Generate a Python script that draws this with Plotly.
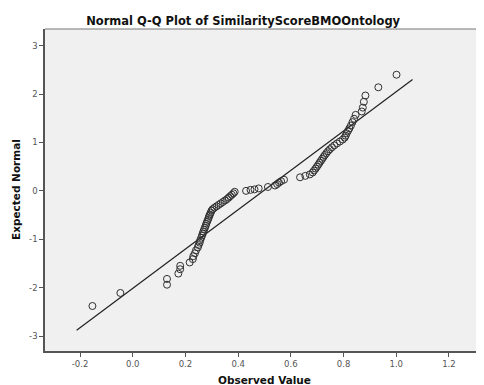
import plotly.graph_objects as go

observed = [
    -0.153, -0.047, 0.130, 0.130, 0.173, 0.180, 0.180, 0.216, 0.228, 0.230,
    0.236, 0.240, 0.247, 0.250, 0.254, 0.256, 0.260, 0.263, 0.266, 0.268,
    0.271, 0.274, 0.277, 0.279, 0.282, 0.285, 0.288, 0.290, 0.293, 0.296,
    0.299, 0.303, 0.310, 0.318, 0.326, 0.334, 0.342, 0.350, 0.358, 0.364,
    0.370, 0.376, 0.382, 0.387,
    0.430, 0.447, 0.462, 0.478, 0.513, 0.540, 0.548, 0.555, 0.563, 0.574,
    0.635, 0.655, 0.672, 0.683, 0.688, 0.694, 0.699, 0.704, 0.709, 0.714,
    0.719, 0.724, 0.729, 0.735, 0.741, 0.748, 0.756, 0.765, 0.775, 0.786,
    0.797, 0.804, 0.808, 0.812, 0.817, 0.822, 0.828, 0.834, 0.840, 0.846,
    0.869, 0.873, 0.877, 0.883, 0.932, 1.001,
]
expected = [
    -2.38, -2.11, -1.94, -1.82, -1.71, -1.62, -1.55, -1.48, -1.41, -1.35,
    -1.29, -1.23, -1.17, -1.12, -1.07, -1.02, -0.97, -0.92, -0.88, -0.84,
    -0.80, -0.76, -0.72, -0.68, -0.64, -0.60, -0.56, -0.52, -0.49, -0.45,
    -0.41, -0.38, -0.35, -0.32, -0.29, -0.26, -0.23, -0.20, -0.17, -0.14,
    -0.11, -0.08, -0.05, -0.02,
    0.00, 0.02, 0.03, 0.05, 0.08, 0.11, 0.14, 0.17, 0.20, 0.23,
    0.28, 0.31, 0.34, 0.38, 0.42, 0.46, 0.50, 0.54, 0.58, 0.62,
    0.66, 0.70, 0.74, 0.78, 0.82, 0.86, 0.90, 0.94, 0.98, 1.02,
    1.06, 1.10, 1.14, 1.19, 1.24, 1.29, 1.35, 1.42, 1.49, 1.57,
    1.64, 1.72, 1.84, 1.97, 2.14, 2.40,
]

# Reference line end points
line_x = [-0.213, 1.062]
line_y = [-2.88, 2.30]

x_ticks = [-0.2, 0.0, 0.2, 0.4, 0.6, 0.8, 1.0, 1.2]
x_tick_text = ["-0.2", "0.0", "0.2", "0.4", "0.6", "0.8", "1.0", "1.2"]
y_ticks = [-3, -2, -1, 0, 1, 2, 3]
y_tick_text = ["-3", "-2", "-1", "0", "1", "2", "3"]

fig = go.Figure()
fig.add_trace(go.Scatter(
    x=line_x, y=line_y, mode="lines",
    line=dict(color="#222222", width=1.2), hoverinfo="skip", showlegend=False,
))
fig.add_trace(go.Scatter(
    x=observed, y=expected, mode="markers",
    marker=dict(symbol="circle-open", size=7, color="#303030", line=dict(width=1)),
    showlegend=False,
))

# The page adds an 8px body margin; the figure is sized to fit inside it.
W, H = 476, 377
axis_font = dict(family="DejaVu Sans", size=8.5, color="#555555")
title_font = dict(family="DejaVu Sans", size=10.5, color="#111111")
fig.update_layout(
    width=W, height=H,
    margin=dict(l=37, r=0, t=21, b=34, autoexpand=False),
    paper_bgcolor="white", plot_bgcolor="#F0F0F0",
    title=dict(text="<b>Normal Q-Q Plot of SimilarityScoreBMOOntology</b>",
               x=0.494, xanchor="center", y=1 - 13 / H, yref="container",
               yanchor="middle",
               font=dict(family="DejaVu Sans", size=11.5, color="#111111"),
               automargin=False),
    xaxis=dict(range=[-0.333, 1.333], tickvals=x_ticks, ticktext=x_tick_text,
               showgrid=False, zeroline=False, showline=True, linecolor="#555555",
               linewidth=1.5, ticks="outside", ticklen=4, tickcolor="#555555",
               tickfont=axis_font, automargin=False),
    yaxis=dict(range=[-3.31, 3.345], tickvals=y_ticks, ticktext=y_tick_text,
               showgrid=False, zeroline=False, showline=True, linecolor="#555555",
               linewidth=1.5, ticks="outside", ticklen=4, tickcolor="#555555",
               tickfont=axis_font, automargin=False),
    shapes=[dict(type="line", xref="paper", yref="paper", x0=0, x1=1, y0=1, y1=1,
                 line=dict(color="#777777", width=1.2))],
    annotations=[
        dict(text="<b>Observed Value</b>", xref="paper", yref="paper",
             x=0.5, y=-29 / 322, xanchor="center", yanchor="middle",
             showarrow=False, font=title_font),
        dict(text="<b>Expected Normal</b>", xref="paper", yref="paper",
             x=-29 / 439, y=0.5, xanchor="center", yanchor="middle", textangle=-90,
             showarrow=False, font=title_font),
    ],
)

fig.write_html("out.html")
